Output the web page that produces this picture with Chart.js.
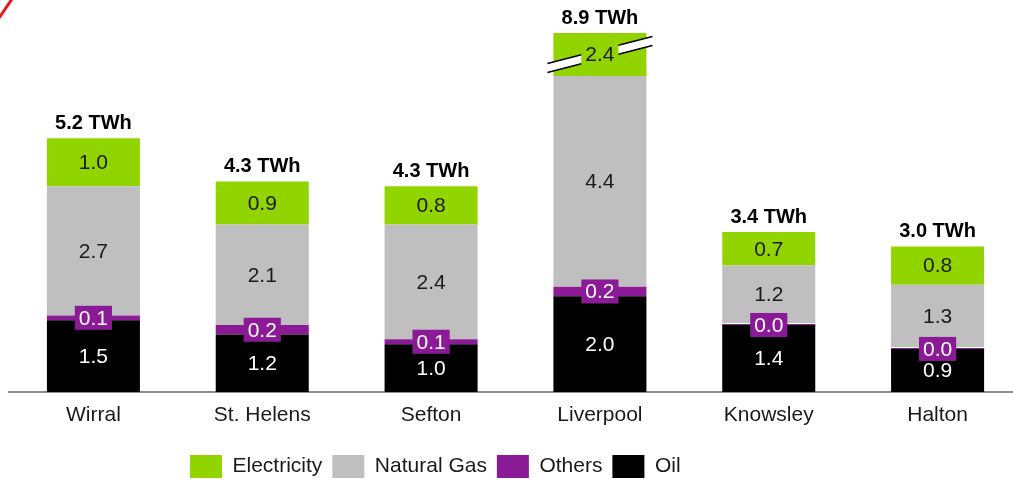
<!DOCTYPE html>
<html>
<head>
<meta charset="utf-8">
<script src="https://cdn.jsdelivr.net/npm/chart.js@4/dist/chart.umd.min.js"></script>
<style>
  html, body { margin: 0; padding: 0; background: #fff; overflow: hidden; }
  #wrap { width: 1030px; height: 482px; }
</style>
</head>
<body>
<div id="wrap"><canvas id="energyChart" width="1030" height="482"></canvas></div>
<script>
const areas = ['Wirral', 'St. Helens', 'Sefton', 'Liverpool', 'Knowsley', 'Halton'];
const oil = [1.5, 1.2, 1.0, 2.0, 1.4, 0.9];
const others = [0.1, 0.2, 0.1, 0.2, 0.0, 0.0];
const naturalGas = [2.7, 2.1, 2.4, 4.4, 1.2, 1.3];
const electricity = [1.0, 0.9, 0.8, 2.4, 0.7, 0.8];
const totals = [5.2, 4.3, 4.3, 8.9, 3.4, 3.0];

const FONT = "'Liberation Sans', Arial, sans-serif";
const LEGEND_PAD = 10;

// labels inside segments, the axis break and the totals on top
const labelPlugin = {
  id: 'segmentLabels',
  afterDatasetsDraw(chart) {
    const { ctx, chartArea } = chart;
    const metas = chart.data.datasets.map((ds, di) => chart.getDatasetMeta(di));
    const last = metas[metas.length - 1];

    // break mark on bars that run past the top
    last.data.forEach((bar) => {
      if (bar.y >= chartArea.top) return;
      const cy = (chartArea.top + bar.base) / 2;
      const half = bar.width / 2 + 6;
      const rise = 13.5;
      const gap = 4.5;
      ctx.save();
      ctx.beginPath();
      ctx.moveTo(bar.x - half, cy + rise - gap);
      ctx.lineTo(bar.x + half, cy - rise - gap);
      ctx.lineTo(bar.x + half, cy - rise + gap);
      ctx.lineTo(bar.x - half, cy + rise + gap);
      ctx.closePath();
      ctx.fillStyle = '#fff';
      ctx.fill();
      ctx.strokeStyle = '#000';
      ctx.lineWidth = 1.5;
      ctx.beginPath();
      ctx.moveTo(bar.x - half, cy + rise - gap);
      ctx.lineTo(bar.x + half, cy - rise - gap);
      ctx.moveTo(bar.x - half, cy + rise + gap);
      ctx.lineTo(bar.x + half, cy - rise + gap);
      ctx.stroke();
      ctx.restore();
    });

    ctx.save();
    ctx.textAlign = 'center';
    ctx.textBaseline = 'middle';
    ctx.font = '21px ' + FONT;
    chart.data.datasets.forEach((ds, di) => {
      metas[di].data.forEach((bar, i) => {
        const top = Math.max(bar.y, chartArea.top);
        const cy = (top + bar.base) / 2;
        const txt = ds.data[i].toFixed(1);
        const w = ctx.measureText(txt).width + 8;
        ctx.fillStyle = ds.backgroundColor;
        ctx.fillRect(bar.x - w / 2, cy - 12, w, 24);
        ctx.fillStyle = ds.labelColor;
        ctx.fillText(txt, bar.x, cy + 1);
      });
    });

    ctx.font = 'bold 20px ' + FONT;
    ctx.fillStyle = '#000';
    totals.forEach((t, i) => {
      const top = Math.max(last.data[i].y, chartArea.top);
      ctx.fillText(t.toFixed(1) + ' TWh', last.data[i].x, top - 15);
    });
    ctx.restore();
  },
  afterLayout(chart) {
    // legend sits left of centre in the original slide
    const lg = chart.legend;
    if (!lg) return;
    const w = lg.right - lg.left;
    const h = lg.bottom - lg.top;
    lg.left = 190 - LEGEND_PAD;
    lg.right = lg.left + w;
    lg.top = 455 - LEGEND_PAD;
    lg.bottom = lg.top + h;
  },
  afterDraw(chart) {
    const ctx = chart.ctx;
    ctx.save();
    ctx.strokeStyle = '#e8161b';
    ctx.lineWidth = 3;
    ctx.beginPath();
    ctx.moveTo(-1, 18);
    ctx.lineTo(12, -1);
    ctx.stroke();
    ctx.restore();
  }
};

new Chart(document.getElementById('energyChart').getContext('2d'), {
  type: 'bar',
  data: {
    labels: areas,
    datasets: [
      { label: 'Oil', data: oil, backgroundColor: '#000000', labelColor: '#ffffff' },
      { label: 'Others', data: others, backgroundColor: '#8b1a96', labelColor: '#ffffff', minBarLength: 2 },
      { label: 'Natural Gas', data: naturalGas, backgroundColor: '#bfbfbf', labelColor: '#1a1a1a' },
      { label: 'Electricity', data: electricity, backgroundColor: '#92d400', labelColor: '#1a1a1a' },
    ],
  },
  options: {
    responsive: false,
    animation: false,
    layout: { padding: { top: 33, left: 9, right: 8, bottom: 0 } },
    datasets: {
      bar: { categoryPercentage: 1, barPercentage: 0.551, borderWidth: 0 },
    },
    plugins: {
      legend: {
        position: 'bottom',
        align: 'start',
        reverse: true,
        labels: {
          boxWidth: 32,
          boxHeight: 23,
          padding: LEGEND_PAD,
          color: '#1a1a1a',
          font: { family: FONT, size: 21 },
        },
      },
      tooltip: { enabled: false },
    },
    scales: {
      x: {
        stacked: true,
        grid: { display: false, drawTicks: false },
        border: { color: '#8c8c8c', width: 2 },
        ticks: { color: '#1a1a1a', padding: 11, font: { family: FONT, size: 21 } },
        afterFit(scale) {
          // keep the baseline where the original has it
          const lg = scale.chart.legend;
          scale.height = 482 - 392 - (lg ? lg.height : 0);
        },
      },
      y: {
        stacked: true,
        display: false,
        min: 0,
        max: 7.5,
      },
    },
  },
  plugins: [labelPlugin],
});
</script>
</body>
</html>
